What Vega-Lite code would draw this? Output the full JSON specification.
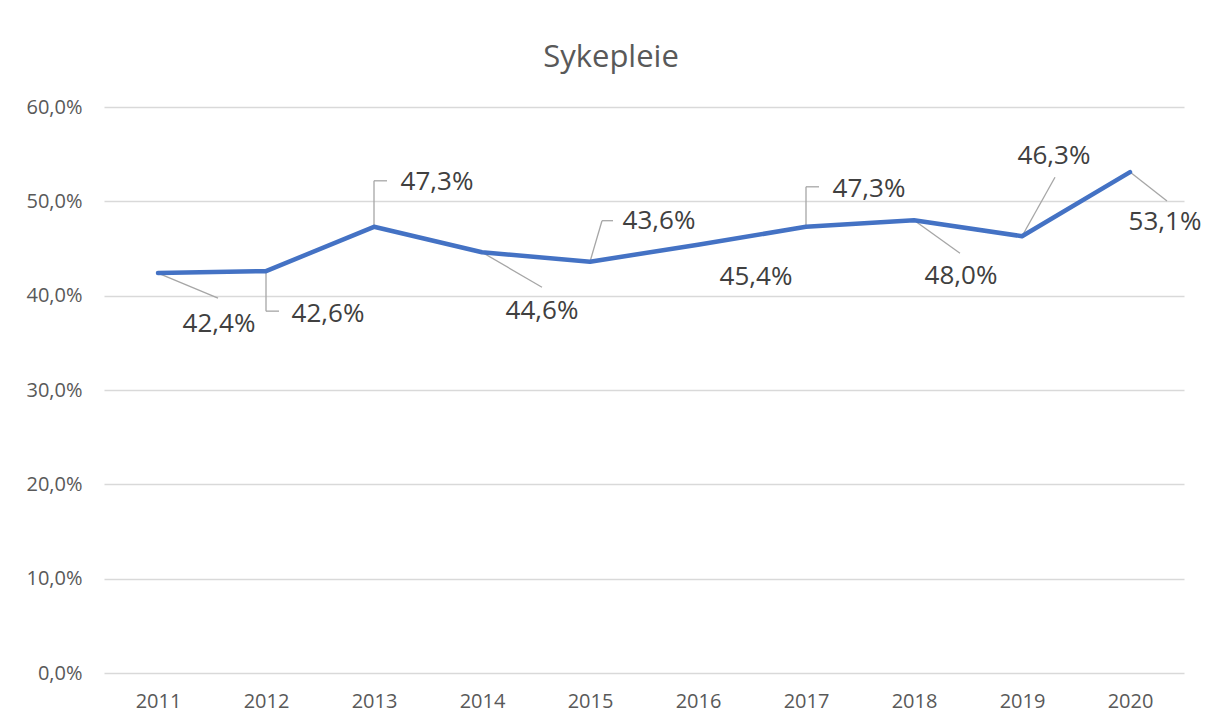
{
  "$schema": "https://vega.github.io/schema/vega-lite/v6.json",
  "width": 1080,
  "height": 566,
  "autosize": {"type": "none"},
  "padding": {"left": 104, "top": 107, "right": 24, "bottom": 53},
  "background": "white",
  "config": {
    "view": {"stroke": null},
    "font": "Open Sans"
  },
  "title": {
    "text": "Sykepleie",
    "anchor": "middle",
    "frame": "group",
    "fontSize": 31,
    "fontWeight": "normal",
    "color": "#595959",
    "font": "Open Sans",
    "baseline": "alphabetic",
    "offset": -1,
    "dx": -33
  },
  "data": {
    "values": [
      {"year": "2011", "value": 42.4},
      {"year": "2012", "value": 42.6},
      {"year": "2013", "value": 47.3},
      {"year": "2014", "value": 44.6},
      {"year": "2015", "value": 43.6},
      {"year": "2016", "value": 45.4},
      {"year": "2017", "value": 47.3},
      {"year": "2018", "value": 48.0},
      {"year": "2019", "value": 46.3},
      {"year": "2020", "value": 53.1}
    ]
  },
  "transform": [
    {"calculate": "replace(format(datum.value, '.1f'), '.', ',') + '%'", "as": "label"}
  ],
  "encoding": {
    "x": {
      "field": "year",
      "type": "ordinal",
      "scale": {"type": "point", "padding": 0.5},
      "title": null,
      "axis": {
        "labelAngle": 0,
        "ticks": false,
        "domain": false,
        "grid": false,
        "labelFontSize": 20,
        "labelColor": "#595959",
        "labelFont": "Open Sans",
        "labelPadding": 18
      }
    },
    "y": {
      "field": "value",
      "type": "quantitative",
      "scale": {"domain": [0, 60], "nice": false},
      "title": null,
      "axis": {
        "values": [0, 10, 20, 30, 40, 50, 60],
        "labelExpr": "replace(format(datum.value, '.1f'), '.', ',') + '%'",
        "ticks": false,
        "domain": false,
        "grid": true,
        "gridColor": "#D9D9D9",
        "gridWidth": 1.3,
        "labelFontSize": 20,
        "labelColor": "#595959",
        "labelFont": "Open Sans",
        "labelPadding": 22
      }
    }
  },
  "layer": [
    {
      "transform": [{"filter": "datum.year == '2011'"}],
      "mark": {"type": "rule", "color": "#A6A6A6", "strokeWidth": 1.3, "x2Offset": 60, "y2Offset": 25},
      "encoding": {"x2": {"field": "year"}, "y2": {"field": "value"}}
    },
    {
      "transform": [{"filter": "datum.year == '2012'"}],
      "mark": {"type": "rule", "color": "#A6A6A6", "strokeWidth": 1.3, "y2Offset": 40},
      "encoding": {"x2": {"field": "year"}, "y2": {"field": "value"}}
    },
    {
      "transform": [{"filter": "datum.year == '2012'"}],
      "mark": {"type": "rule", "color": "#A6A6A6", "strokeWidth": 1.3, "yOffset": 40, "y2Offset": 40, "x2Offset": 13},
      "encoding": {"x2": {"field": "year"}, "y2": {"field": "value"}}
    },
    {
      "transform": [{"filter": "datum.year == '2013'"}],
      "mark": {"type": "rule", "color": "#A6A6A6", "strokeWidth": 1.3, "y2Offset": -46},
      "encoding": {"x2": {"field": "year"}, "y2": {"field": "value"}}
    },
    {
      "transform": [{"filter": "datum.year == '2013'"}],
      "mark": {"type": "rule", "color": "#A6A6A6", "strokeWidth": 1.3, "yOffset": -46, "y2Offset": -46, "x2Offset": 13},
      "encoding": {"x2": {"field": "year"}, "y2": {"field": "value"}}
    },
    {
      "transform": [{"filter": "datum.year == '2014'"}],
      "mark": {"type": "rule", "color": "#A6A6A6", "strokeWidth": 1.3, "x2Offset": 60, "y2Offset": 35},
      "encoding": {"x2": {"field": "year"}, "y2": {"field": "value"}}
    },
    {
      "transform": [{"filter": "datum.year == '2015'"}],
      "mark": {"type": "rule", "color": "#A6A6A6", "strokeWidth": 1.3, "x2Offset": 12, "y2Offset": -41},
      "encoding": {"x2": {"field": "year"}, "y2": {"field": "value"}}
    },
    {
      "transform": [{"filter": "datum.year == '2015'"}],
      "mark": {"type": "rule", "color": "#A6A6A6", "strokeWidth": 1.3, "xOffset": 12, "x2Offset": 23, "yOffset": -41, "y2Offset": -41},
      "encoding": {"x2": {"field": "year"}, "y2": {"field": "value"}}
    },
    {
      "transform": [{"filter": "datum.year == '2017'"}],
      "mark": {"type": "rule", "color": "#A6A6A6", "strokeWidth": 1.3, "y2Offset": -40},
      "encoding": {"x2": {"field": "year"}, "y2": {"field": "value"}}
    },
    {
      "transform": [{"filter": "datum.year == '2017'"}],
      "mark": {"type": "rule", "color": "#A6A6A6", "strokeWidth": 1.3, "yOffset": -40, "y2Offset": -40, "x2Offset": 13},
      "encoding": {"x2": {"field": "year"}, "y2": {"field": "value"}}
    },
    {
      "transform": [{"filter": "datum.year == '2018'"}],
      "mark": {"type": "rule", "color": "#A6A6A6", "strokeWidth": 1.3, "x2Offset": 46, "y2Offset": 33},
      "encoding": {"x2": {"field": "year"}, "y2": {"field": "value"}}
    },
    {
      "transform": [{"filter": "datum.year == '2019'"}],
      "mark": {"type": "rule", "color": "#A6A6A6", "strokeWidth": 1.3, "x2Offset": 33, "y2Offset": -59},
      "encoding": {"x2": {"field": "year"}, "y2": {"field": "value"}}
    },
    {
      "transform": [{"filter": "datum.year == '2020'"}],
      "mark": {"type": "rule", "color": "#A6A6A6", "strokeWidth": 1.3, "x2Offset": 37, "y2Offset": 29},
      "encoding": {"x2": {"field": "year"}, "y2": {"field": "value"}}
    },
    {
      "mark": {"type": "line", "color": "#4472C4", "strokeWidth": 4.5, "strokeJoin": "round", "strokeCap": "round"},
      "encoding": {}
    },
    {
      "transform": [{"filter": "datum.year == '2011'"}],
      "mark": {"type": "text", "fontSize": 26, "color": "#404040", "font": "Open Sans", "align": "center", "baseline": "middle", "dx": 61, "dy": 51},
      "encoding": {"text": {"field": "label"}}
    },
    {
      "transform": [{"filter": "datum.year == '2012'"}],
      "mark": {"type": "text", "fontSize": 26, "color": "#404040", "font": "Open Sans", "align": "center", "baseline": "middle", "dx": 62, "dy": 43},
      "encoding": {"text": {"field": "label"}}
    },
    {
      "transform": [{"filter": "datum.year == '2013'"}],
      "mark": {"type": "text", "fontSize": 26, "color": "#404040", "font": "Open Sans", "align": "center", "baseline": "middle", "dx": 63, "dy": -45},
      "encoding": {"text": {"field": "label"}}
    },
    {
      "transform": [{"filter": "datum.year == '2014'"}],
      "mark": {"type": "text", "fontSize": 26, "color": "#404040", "font": "Open Sans", "align": "center", "baseline": "middle", "dx": 60, "dy": 59},
      "encoding": {"text": {"field": "label"}}
    },
    {
      "transform": [{"filter": "datum.year == '2015'"}],
      "mark": {"type": "text", "fontSize": 26, "color": "#404040", "font": "Open Sans", "align": "center", "baseline": "middle", "dx": 69, "dy": -41},
      "encoding": {"text": {"field": "label"}}
    },
    {
      "transform": [{"filter": "datum.year == '2016'"}],
      "mark": {"type": "text", "fontSize": 26, "color": "#404040", "font": "Open Sans", "align": "center", "baseline": "middle", "dx": 58, "dy": 32},
      "encoding": {"text": {"field": "label"}}
    },
    {
      "transform": [{"filter": "datum.year == '2017'"}],
      "mark": {"type": "text", "fontSize": 26, "color": "#404040", "font": "Open Sans", "align": "center", "baseline": "middle", "dx": 63, "dy": -38},
      "encoding": {"text": {"field": "label"}}
    },
    {
      "transform": [{"filter": "datum.year == '2018'"}],
      "mark": {"type": "text", "fontSize": 26, "color": "#404040", "font": "Open Sans", "align": "center", "baseline": "middle", "dx": 47, "dy": 56},
      "encoding": {"text": {"field": "label"}}
    },
    {
      "transform": [{"filter": "datum.year == '2019'"}],
      "mark": {"type": "text", "fontSize": 26, "color": "#404040", "font": "Open Sans", "align": "center", "baseline": "middle", "dx": 32, "dy": -80},
      "encoding": {"text": {"field": "label"}}
    },
    {
      "transform": [{"filter": "datum.year == '2020'"}],
      "mark": {"type": "text", "fontSize": 26, "color": "#404040", "font": "Open Sans", "align": "center", "baseline": "middle", "dx": 35, "dy": 50},
      "encoding": {"text": {"field": "label"}}
    }
  ]
}
